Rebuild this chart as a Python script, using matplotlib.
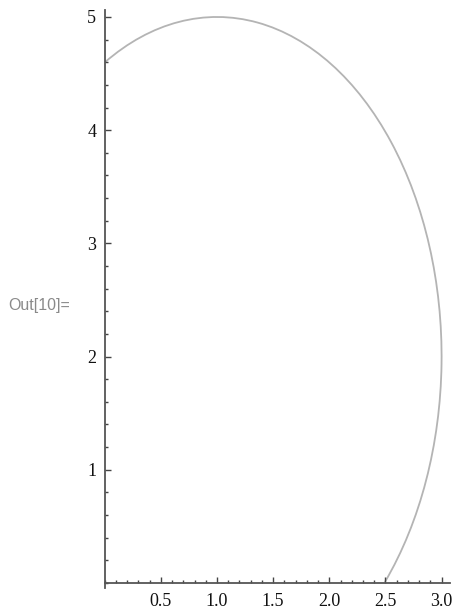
import matplotlib
matplotlib.use("Agg")
import matplotlib.pyplot as plt
from matplotlib.patches import Arc
from matplotlib.ticker import MultipleLocator

# Kurve: Ellipsenbogen, Werte
ellipse_center = (1.0, 2.0)
ellipse_width = 4.0    # Halbachse x = 2
ellipse_height = 6.0   # Halbachse y = 3
arc_start_deg = -53.13   # Punkt (2.5, 0)
arc_end_deg = 111.04     # Punkt (0, 4.6)

x_ticks = [0.5, 1.0, 1.5, 2.0, 2.5, 3.0]
x_tick_labels = ["0.5", "1.0", "1.5", "2.0", "2.5", "3.0"]
y_ticks = [1, 2, 3, 4, 5]
y_tick_labels = ["1", "2", "3", "4", "5"]

fig = plt.figure(figsize=(4.57, 6.10), dpi=100)
ax = fig.add_axes([0.2291, 0.0361, 0.7556, 0.9472])

bogen = Arc(ellipse_center, ellipse_width, ellipse_height,
            theta1=arc_start_deg, theta2=arc_end_deg,
            color="#b4b4b4", lw=1.3)
ax.add_patch(bogen)

ax.set_xlim(0, 3.075)
ax.set_ylim(-0.045, 5.06)

# Achsen wie in Mathematica durch den Ursprung
for s in ["top", "right"]:
    ax.spines[s].set_visible(False)
ax.spines["bottom"].set_position(("data", 0))
ax.spines["left"].set_position(("data", 0))
for s in ["bottom", "left"]:
    ax.spines[s].set_color("#555555")
    ax.spines[s].set_linewidth(1.3)

ax.set_xticks(x_ticks)
ax.set_xticklabels(x_tick_labels)
ax.set_yticks(y_ticks)
ax.set_yticklabels(y_tick_labels)
ax.xaxis.set_minor_locator(MultipleLocator(0.1))
ax.yaxis.set_minor_locator(MultipleLocator(0.2))

ax.tick_params(axis="both", which="major", direction="in", length=4,
               width=1.0, color="#444444", labelsize=13,
               labelcolor="#111111")
ax.tick_params(axis="both", which="minor", direction="in", length=2.3,
               width=1.0, color="#444444")
ax.tick_params(axis="x", which="major", pad=7)
ax.tick_params(axis="y", which="major", pad=6)
for lab in ax.get_xticklabels() + ax.get_yticklabels():
    lab.set_family("Liberation Serif")

fig.text(0.0175, 1 - 305.5 / 610, "Out[10]=", family="Liberation Sans",
         fontsize=11.5, color="#8a8a8a", va="center", ha="left")

fig.savefig("out.png", dpi=100)
